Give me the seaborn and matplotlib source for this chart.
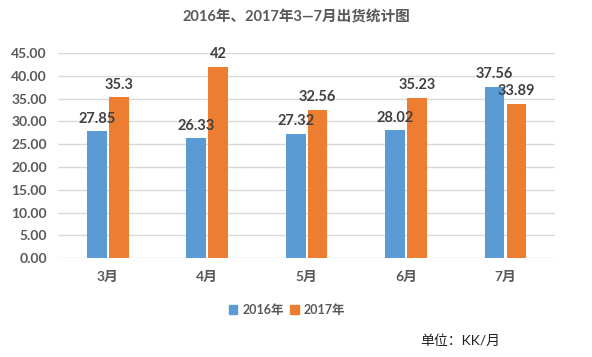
import matplotlib
matplotlib.use("Agg")
import matplotlib.pyplot as plt
import seaborn as sns
import pandas as pd

months = ["3月", "4月", "5月", "6月", "7月"]
v2016 = [27.85, 26.33, 27.32, 28.02, 37.56]
v2017 = [35.3, 42, 32.56, 35.23, 33.89]
lab2016 = ["27.85", "26.33", "27.32", "28.02", "37.56"]
lab2017 = ["35.3", "42", "32.56", "35.23", "33.89"]
series = ["2016年", "2017年"]
yticks = [0, 5, 10, 15, 20, 25, 30, 35, 40, 45]

sns.set_theme(style="white")
plt.rcParams["font.family"] = ["Lato", "Noto Sans CJK SC", "DejaVu Sans"]

df = pd.DataFrame({
    "month": months * 2,
    "value": v2016 + v2017,
    "series": [series[0]] * 5 + [series[1]] * 5,
})

fig = plt.figure(figsize=(5.92, 3.57), dpi=100)
ax = fig.add_axes([0.098, 0.277, 0.84, 0.5745])
sns.barplot(data=df, x="month", y="value", hue="series", order=months,
            hue_order=series, palette=["#5B9BD5", "#ED7D31"], width=0.44,
            gap=0.1, saturation=1, linewidth=0, ax=ax, legend=False)

ax.set_ylim(0, 45)
ax.set_yticks(yticks)
ax.set_yticklabels([f"{t:.2f}" for t in yticks])
ax.set_xlim(-0.5, 4.5)
ax.yaxis.grid(True, color="#D9D9D9", linewidth=1)
ax.set_axisbelow(True)
for s in ax.spines.values():
    s.set_visible(False)
ax.set_xlabel("")
ax.set_ylabel("")
ax.tick_params(axis="y", length=0, pad=8, labelsize=10, labelcolor="#595959")
ax.tick_params(axis="x", length=0, pad=9, labelsize=10, labelcolor="#595959")
for lbl in ax.get_xticklabels() + ax.get_yticklabels():
    lbl.set_fontweight("bold")

for cont, labs in zip(ax.containers, [lab2016, lab2017]):
    ax.bar_label(cont, labels=labs, padding=4, fontsize=10.5, fontweight="bold",
                 color="#404040")

fig.text(0.5, 0.952, "2016年、2017年3—7月出货统计图", ha="center", va="center",
         fontsize=10.5, fontweight="bold", color="#595959")

from matplotlib.patches import Patch
handles = [Patch(color="#5B9BD5"), Patch(color="#ED7D31")]
leg = fig.legend(handles, series, loc="center", bbox_to_anchor=(0.485, 0.133),
                 ncol=2, frameon=False, handlelength=0.7, handleheight=0.7,
                 handletextpad=0.4, columnspacing=0.5,
                 prop={"size": 9, "weight": "bold"})
for t in leg.get_texts():
    t.set_color("#595959")

fig.text(0.71, 0.045, "单位：KK/月", ha="left", va="center", fontsize=10,
         color="#222222")

fig.savefig("out.png", dpi=100, facecolor="white")
